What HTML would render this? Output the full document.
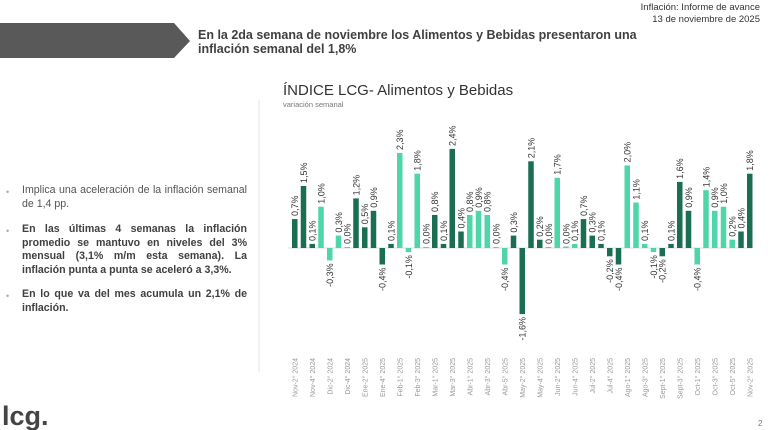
<!DOCTYPE html>
<html><head><meta charset="utf-8"><style>
body{margin:0;width:770px;height:430px;background:#fff;position:relative;overflow:hidden;font-family:"Liberation Sans",sans-serif}
.hdr{position:absolute;right:10px;top:2px;text-align:right;font-size:9.5px;color:#333;line-height:12px}
.ttl{position:absolute;left:198px;top:28px;width:470px;font-size:12.5px;font-weight:bold;color:#404040;line-height:14px}
.txt{position:absolute;left:22px;width:225px;font-size:10.6px;line-height:13.5px;color:#555;text-align:justify}
.txt.b{font-weight:bold;color:#404040}
.dot{position:absolute;left:6px;font-size:9px;color:#aaa}
</style></head><body>
<div class="hdr">Inflación: Informe de avance<br>13 de noviembre de 2025</div>
<svg width="770" height="430" style="position:absolute;left:0;top:0">
<polygon points="0,23 174,23 190,41 174,58 0,58" fill="#595959"/>
<line x1="259" y1="100" x2="259" y2="372" stroke="#e6e6e6" stroke-width="1"/>
<text x="283" y="95" font-size="15" fill="#333">ÍNDICE LCG- Alimentos y Bebidas</text>
<text x="283" y="107" font-size="7.5" fill="#777">variación semanal</text>
<line x1="288" y1="248" x2="752" y2="248" stroke="#ddd"/>
<g>
<rect x="292" y="219.1" width="5.5" height="28.9" fill="#1a6e52"/>
<rect x="300.75" y="186" width="5.5" height="62" fill="#1a6e52"/>
<rect x="309.5" y="243.9" width="5.5" height="4.1" fill="#1a6e52"/>
<rect x="318.25" y="206.7" width="5.5" height="41.3" fill="#4fd6a8"/>
<rect x="327" y="248" width="5.5" height="12.4" fill="#4fd6a8"/>
<rect x="335.75" y="235.6" width="5.5" height="12.4" fill="#4fd6a8"/>
<rect x="344.5" y="247" width="5.5" height="1" fill="#4fd6a8"/>
<rect x="353.25" y="198.4" width="5.5" height="49.6" fill="#1a6e52"/>
<rect x="362" y="227.3" width="5.5" height="20.7" fill="#1a6e52"/>
<rect x="370.75" y="210.8" width="5.5" height="37.2" fill="#1a6e52"/>
<rect x="379.5" y="248" width="5.5" height="16.5" fill="#1a6e52"/>
<rect x="388.25" y="243.9" width="5.5" height="4.1" fill="#1a6e52"/>
<rect x="397" y="153" width="5.5" height="95" fill="#4fd6a8"/>
<rect x="405.75" y="248" width="5.5" height="4.1" fill="#4fd6a8"/>
<rect x="414.5" y="173.7" width="5.5" height="74.3" fill="#4fd6a8"/>
<rect x="423.25" y="247" width="5.5" height="1" fill="#4fd6a8"/>
<rect x="432" y="215" width="5.5" height="33" fill="#1a6e52"/>
<rect x="440.75" y="243.9" width="5.5" height="4.1" fill="#1a6e52"/>
<rect x="449.5" y="148.9" width="5.5" height="99.1" fill="#1a6e52"/>
<rect x="458.25" y="231.5" width="5.5" height="16.5" fill="#1a6e52"/>
<rect x="467" y="215" width="5.5" height="33" fill="#4fd6a8"/>
<rect x="475.75" y="210.8" width="5.5" height="37.2" fill="#4fd6a8"/>
<rect x="484.5" y="215" width="5.5" height="33" fill="#4fd6a8"/>
<rect x="493.25" y="247" width="5.5" height="1" fill="#4fd6a8"/>
<rect x="502" y="248" width="5.5" height="16.5" fill="#4fd6a8"/>
<rect x="510.75" y="235.6" width="5.5" height="12.4" fill="#1a6e52"/>
<rect x="519.5" y="248" width="5.5" height="66.1" fill="#1a6e52"/>
<rect x="528.25" y="161.3" width="5.5" height="86.7" fill="#1a6e52"/>
<rect x="537" y="239.7" width="5.5" height="8.3" fill="#1a6e52"/>
<rect x="545.75" y="247" width="5.5" height="1" fill="#4fd6a8"/>
<rect x="554.5" y="177.8" width="5.5" height="70.2" fill="#4fd6a8"/>
<rect x="563.25" y="246.5" width="5.5" height="1.5" fill="#4fd6a8"/>
<rect x="572" y="243.9" width="5.5" height="4.1" fill="#4fd6a8"/>
<rect x="580.75" y="219.1" width="5.5" height="28.9" fill="#1a6e52"/>
<rect x="589.5" y="235.6" width="5.5" height="12.4" fill="#1a6e52"/>
<rect x="598.25" y="243.9" width="5.5" height="4.1" fill="#1a6e52"/>
<rect x="607" y="248" width="5.5" height="8.3" fill="#1a6e52"/>
<rect x="615.75" y="248" width="5.5" height="16.5" fill="#1a6e52"/>
<rect x="624.5" y="165.4" width="5.5" height="82.6" fill="#4fd6a8"/>
<rect x="633.25" y="202.6" width="5.5" height="45.4" fill="#4fd6a8"/>
<rect x="642" y="243.9" width="5.5" height="4.1" fill="#4fd6a8"/>
<rect x="650.75" y="248" width="5.5" height="4.1" fill="#4fd6a8"/>
<rect x="659.5" y="248" width="5.5" height="8.3" fill="#1a6e52"/>
<rect x="668.25" y="243.9" width="5.5" height="4.1" fill="#1a6e52"/>
<rect x="677" y="181.9" width="5.5" height="66.1" fill="#1a6e52"/>
<rect x="685.75" y="210.8" width="5.5" height="37.2" fill="#1a6e52"/>
<rect x="694.5" y="248" width="5.5" height="16.5" fill="#4fd6a8"/>
<rect x="703.25" y="190.2" width="5.5" height="57.8" fill="#4fd6a8"/>
<rect x="712" y="210.8" width="5.5" height="37.2" fill="#4fd6a8"/>
<rect x="720.75" y="206.7" width="5.5" height="41.3" fill="#4fd6a8"/>
<rect x="729.5" y="239.7" width="5.5" height="8.3" fill="#4fd6a8"/>
<rect x="738.25" y="231.5" width="5.5" height="16.5" fill="#1a6e52"/>
<rect x="747" y="173.7" width="5.5" height="74.3" fill="#1a6e52"/>
</g>
<g font-size="9" fill="#333">
<text transform="translate(298,216) rotate(-90)">0,7%</text>
<text transform="translate(306.75,183) rotate(-90)">1,5%</text>
<text transform="translate(315.5,241) rotate(-90)">0,1%</text>
<text transform="translate(324.25,203.7) rotate(-90)">1,0%</text>
<text transform="translate(333,263.4) rotate(-90)" text-anchor="end">-0,3%</text>
<text transform="translate(341.75,232.6) rotate(-90)">0,3%</text>
<text transform="translate(350.5,244) rotate(-90)">0,0%</text>
<text transform="translate(359.25,195.4) rotate(-90)">1,2%</text>
<text transform="translate(368,224.3) rotate(-90)">0,5%</text>
<text transform="translate(376.75,207.8) rotate(-90)">0,9%</text>
<text transform="translate(385.5,267.5) rotate(-90)" text-anchor="end">-0,4%</text>
<text transform="translate(394.25,241) rotate(-90)">0,1%</text>
<text transform="translate(403,150) rotate(-90)">2,3%</text>
<text transform="translate(411.75,255.1) rotate(-90)" text-anchor="end">-0,1%</text>
<text transform="translate(420.5,170.7) rotate(-90)">1,8%</text>
<text transform="translate(429.25,244) rotate(-90)">0,0%</text>
<text transform="translate(438,212) rotate(-90)">0,8%</text>
<text transform="translate(446.75,241) rotate(-90)">0,1%</text>
<text transform="translate(455.5,146) rotate(-90)">2,4%</text>
<text transform="translate(464.25,228.5) rotate(-90)">0,4%</text>
<text transform="translate(473,212) rotate(-90)">0,8%</text>
<text transform="translate(481.75,207.8) rotate(-90)">0,9%</text>
<text transform="translate(490.5,212) rotate(-90)">0,8%</text>
<text transform="translate(499.25,244) rotate(-90)">0,0%</text>
<text transform="translate(508,267.5) rotate(-90)" text-anchor="end">-0,4%</text>
<text transform="translate(516.75,232.6) rotate(-90)">0,3%</text>
<text transform="translate(525.5,317) rotate(-90)" text-anchor="end">-1,6%</text>
<text transform="translate(534.25,158.3) rotate(-90)">2,1%</text>
<text transform="translate(543,236.7) rotate(-90)">0,2%</text>
<text transform="translate(551.75,244) rotate(-90)">0,0%</text>
<text transform="translate(560.5,174.8) rotate(-90)">1,7%</text>
<text transform="translate(569.25,244) rotate(-90)">0,0%</text>
<text transform="translate(578,241) rotate(-90)">0,1%</text>
<text transform="translate(586.75,216) rotate(-90)">0,7%</text>
<text transform="translate(595.5,232.6) rotate(-90)">0,3%</text>
<text transform="translate(604.25,241) rotate(-90)">0,1%</text>
<text transform="translate(613,259.3) rotate(-90)" text-anchor="end">-0,2%</text>
<text transform="translate(621.75,267.5) rotate(-90)" text-anchor="end">-0,4%</text>
<text transform="translate(630.5,162.4) rotate(-90)">2,0%</text>
<text transform="translate(639.25,199.6) rotate(-90)">1,1%</text>
<text transform="translate(648,241) rotate(-90)">0,1%</text>
<text transform="translate(656.75,255.1) rotate(-90)" text-anchor="end">-0,1%</text>
<text transform="translate(665.5,259.3) rotate(-90)" text-anchor="end">-0,2%</text>
<text transform="translate(674.25,241) rotate(-90)">0,1%</text>
<text transform="translate(683,178.9) rotate(-90)">1,6%</text>
<text transform="translate(691.75,207.8) rotate(-90)">0,9%</text>
<text transform="translate(700.5,267.5) rotate(-90)" text-anchor="end">-0,4%</text>
<text transform="translate(709.25,187.2) rotate(-90)">1,4%</text>
<text transform="translate(718,207.8) rotate(-90)">0,9%</text>
<text transform="translate(726.75,203.7) rotate(-90)">1,0%</text>
<text transform="translate(735.5,236.7) rotate(-90)">0,2%</text>
<text transform="translate(744.25,228.5) rotate(-90)">0,4%</text>
<text transform="translate(753,170.7) rotate(-90)">1,8%</text>
</g>
<g font-size="7" fill="#999" text-anchor="end">
<text transform="translate(297.5,358) rotate(-90)">Nov-2° 2024</text>
<text transform="translate(315,358) rotate(-90)">Nov-4° 2024</text>
<text transform="translate(332.5,358) rotate(-90)">Dic-2° 2024</text>
<text transform="translate(350,358) rotate(-90)">Dic-4° 2024</text>
<text transform="translate(367.5,358) rotate(-90)">Ene-2° 2025</text>
<text transform="translate(385,358) rotate(-90)">Ene-4° 2025</text>
<text transform="translate(402.5,358) rotate(-90)">Feb-1° 2025</text>
<text transform="translate(420,358) rotate(-90)">Feb-3° 2025</text>
<text transform="translate(437.5,358) rotate(-90)">Mar-1° 2025</text>
<text transform="translate(455,358) rotate(-90)">Mar-3° 2025</text>
<text transform="translate(472.5,358) rotate(-90)">Abr-1° 2025</text>
<text transform="translate(490,358) rotate(-90)">Abr-3° 2025</text>
<text transform="translate(507.5,358) rotate(-90)">Abr-5° 2025</text>
<text transform="translate(525,358) rotate(-90)">May-2° 2025</text>
<text transform="translate(542.5,358) rotate(-90)">May-4° 2025</text>
<text transform="translate(560,358) rotate(-90)">Jun-2° 2025</text>
<text transform="translate(577.5,358) rotate(-90)">Jun-4° 2025</text>
<text transform="translate(595,358) rotate(-90)">Jul-2° 2025</text>
<text transform="translate(612.5,358) rotate(-90)">Jul-4° 2025</text>
<text transform="translate(630,358) rotate(-90)">Ago-1° 2025</text>
<text transform="translate(647.5,358) rotate(-90)">Ago-3° 2025</text>
<text transform="translate(665,358) rotate(-90)">Sept-1° 2025</text>
<text transform="translate(682.5,358) rotate(-90)">Sept-3° 2025</text>
<text transform="translate(700,358) rotate(-90)">Oct-1° 2025</text>
<text transform="translate(717.5,358) rotate(-90)">Oct-3° 2025</text>
<text transform="translate(735,358) rotate(-90)">Oct-5° 2025</text>
<text transform="translate(752.5,358) rotate(-90)">Nov-2° 2025</text>
</g>
<text x="2" y="425" font-size="27" font-weight="bold" fill="#444">lcg.</text>
<text x="758" y="426" font-size="8" fill="#777">2</text>
</svg>
<div class="ttl">En la 2da semana de noviembre los Alimentos y Bebidas presentaron una inflación semanal del 1,8%</div>
<div class="dot" style="top:187px">•</div>
<div class="txt" style="top:184px">Implica una aceleración de la inflación semanal de 1,4 pp.</div>
<div class="dot" style="top:226px">•</div>
<div class="txt b" style="top:223px">En las últimas 4 semanas la inflación promedio se mantuvo en niveles del 3% mensual (3,1% m/m esta semana). La inflación punta a punta se aceleró a 3,3%.</div>
<div class="dot" style="top:291px">•</div>
<div class="txt b" style="top:288px">En lo que va del mes acumula un 2,1% de inflación.</div>
</body></html>
